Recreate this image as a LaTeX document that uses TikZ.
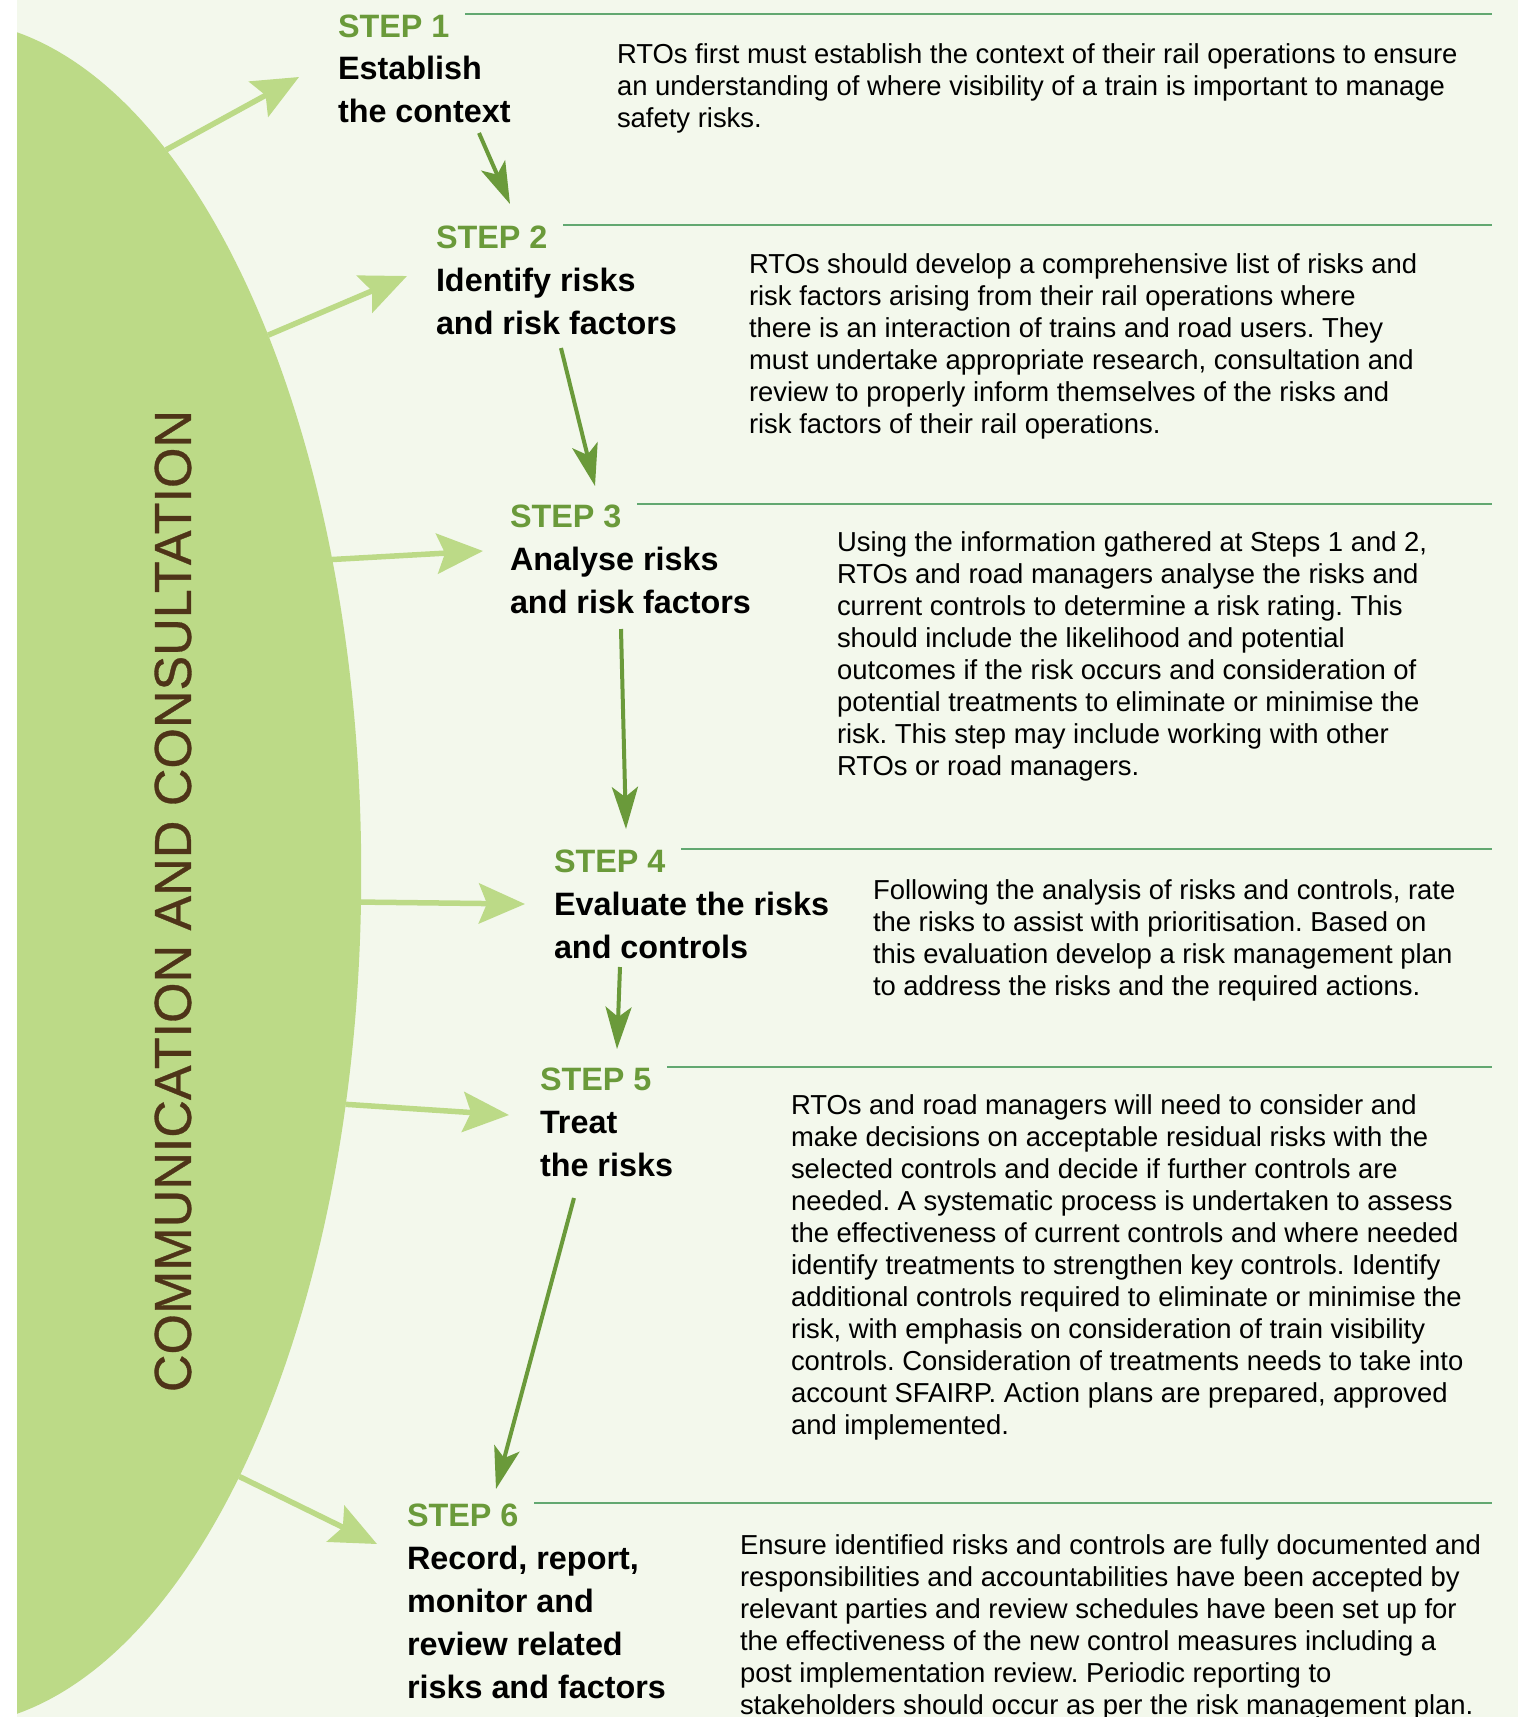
\documentclass[tikz,border=0pt]{standalone}
\usepackage{fontspec}
\setmainfont{Liberation Sans}
\newfontfamily\commfont[FakeBold=0.6]{Liberation Sans}
\usepackage{tikz}
\usetikzlibrary{shapes.geometric, arrows.meta, positioning, calc}
\frenchspacing

\definecolor{bgpale}{HTML}{F3F8EC}
\definecolor{ovalgreen}{HTML}{BCDA87}
\definecolor{stepgreen}{HTML}{6A9A3A}
\definecolor{rulegreen}{HTML}{62A871}
\definecolor{commbrown}{HTML}{4E3418}

\begin{document}
\begin{tikzpicture}[
			x=0.01cm, y=-0.01cm,
			steplabel/.style={anchor=base west, inner sep=0pt, outer sep=0pt, text=stepgreen, font=\fontsize{9.2}{12.2}\selectfont\bfseries},
			steptitle/.style={anchor=base west, inner sep=0pt, outer sep=0pt, align=left, font=\fontsize{9.2}{12.2}\selectfont\bfseries},
			stepdesc/.style={anchor=base west, inner sep=0pt, outer sep=0pt, align=left, font=\fontsize{7.8}{9.1}\selectfont},
			rule/.style={draw=rulegreen, line width=0.02cm},
			flow/.style={-{Stealth[length=4.2mm, width=2.6mm, inset=1mm]}, draw=stepgreen, line width=0.04cm},
			feed/.style={-{Stealth[length=4.6mm, width=4mm, inset=0.8mm]}, draw=ovalgreen, line width=0.055cm}
			]
			
			\useasboundingbox (0,0) rectangle (1518,1717);
			\fill[white] (0,0) rectangle (1518,1717);
			\fill[bgpale] (17,0) rectangle (1518,1717);
			\coordinate (edge) at (1492,0);
			
			\begin{scope}
				\clip (17,0) rectangle (1518,1717);
				\node[ellipse, fill=ovalgreen, inner sep=0pt, outer sep=0pt, minimum width=8.32cm, minimum height=17.06cm] (comm) at (-55,873) {};
			\end{scope}
			\node[rotate=90, text=commbrown, font=\fontsize{14.8}{14.8}\commfont] (commtext) at (173,901) {COMMUNICATION AND CONSULTATION};
			
			\node[steplabel] (s1) at (338,37) {STEP 1};
			\node[steplabel] (s2) at (436,248) {STEP 2};
			\node[steplabel] (s3) at (510,527) {STEP 3};
			\node[steplabel] (s4) at (554,872) {STEP 4};
			\node[steplabel] (s5) at (540,1090) {STEP 5};
			\node[steplabel] (s6) at (407,1526) {STEP 6};
			
			\draw[rule] ([xshift=0.16cm]s1.north east) -- (s1.north east -| edge);
			\draw[rule] ([xshift=0.16cm]s2.north east) -- (s2.north east -| edge);
			\draw[rule] ([xshift=0.16cm]s3.north east) -- (s3.north east -| edge);
			\draw[rule] ([xshift=0.16cm]s4.north east) -- (s4.north east -| edge);
			\draw[rule] ([xshift=0.16cm]s5.north east) -- (s5.north east -| edge);
			\draw[rule] ([xshift=0.16cm]s6.north east) -- (s6.north east -| edge);
			
			\node[steptitle] (t1) at (338,122) {Establish\\the context};
			\node[steptitle] (t2) at (436,334) {Identify risks\\and risk factors};
			\node[steptitle] (t3) at (510,613) {Analyse risks\\and risk factors};
			\node[steptitle] (t4) at (554,958) {Evaluate the risks\\and controls};
			\node[steptitle] (t5) at (540,1176) {Treat\\the risks};
			\node[steptitle] (t6) at (407,1698) {Record, report,\\monitor and\\review related\\risks and factors};
			
			\node[stepdesc] (d1) at (617,127) {RTOs first must establish the context of their rail operations to ensure\\an understanding of where visibility of a train is important to manage\\safety risks.};
			\node[stepdesc] (d2) at (749,433) {RTOs should develop a comprehensive list of risks and\\risk factors arising from their rail operations where\\there is an interaction of trains and road users. They\\must undertake appropriate research, consultation and\\review to properly inform themselves of the risks and\\risk factors of their rail operations.};
			\node[stepdesc] (d3) at (837,775) {Using the information gathered at Steps 1 and 2,\\RTOs and road managers analyse the risks and\\current controls to determine a risk rating. This\\should include the likelihood and potential\\outcomes if the risk occurs and consideration of\\potential treatments to eliminate or minimise the\\risk. This step may include working with other\\RTOs or road managers.};
			\node[stepdesc] (d4) at (873,995) {Following the analysis of risks and controls, rate\\the risks to assist with prioritisation. Based on\\this evaluation develop a risk management plan\\to address the risks and the required actions.};
			\node[stepdesc] (d5) at (791,1434) {RTOs and road managers will need to consider and\\make decisions on acceptable residual risks with the\\selected controls and decide if further controls are\\needed. A systematic process is undertaken to assess\\the effectiveness of current controls and where needed\\identify treatments to strengthen key controls. Identify\\additional controls required to eliminate or minimise the\\risk, with emphasis on consideration of train visibility\\controls. Consideration of treatments needs to take into\\account SFAIRP. Action plans are prepared, approved\\and implemented.};
			\node[stepdesc] (d6) at (740,1714) {Ensure identified risks and controls are fully documented and\\responsibilities and accountabilities have been accepted by\\relevant parties and review schedules have been set up for\\the effectiveness of the new control measures including a\\post implementation review. Periodic reporting to\\stakeholders should occur as per the risk management plan.};
			
			\coordinate (in1) at (299,77);
			\coordinate (in2) at (407,276);
			\coordinate (in3) at (483,551);
			\coordinate (in4) at (525,904);
			\coordinate (in5) at (509,1115);
			\coordinate (in6) at (377,1544);
			
			\draw[feed] (comm.73) -- (in1);
			\draw[feed] (comm.59) -- (in2);
			\draw[feed] (comm.39) -- (in3);
			\draw[feed] (comm.-4) -- (in4);
			\draw[feed] (comm.-30) -- (in5);
			\draw[feed] (comm.-64) -- (in6);
			
			\coordinate (from1) at (479,133);
			\coordinate (to2) at (510,204);
			\coordinate (from2) at (561,348);
			\coordinate (to3) at (595,486);
			\coordinate (from3) at (621,629);
			\coordinate (to4) at (626,829);
			\coordinate (from4) at (620,967);
			\coordinate (to5) at (617,1049);
			\coordinate (from5) at (574,1198);
			\coordinate (to6) at (496,1489);
			
			\draw[flow] (from1) -- (to2);
			\draw[flow] (from2) -- (to3);
			\draw[flow] (from3) -- (to4);
			\draw[flow] (from4) -- (to5);
			\draw[flow] (from5) -- (to6);
		\end{tikzpicture}
\end{document}
